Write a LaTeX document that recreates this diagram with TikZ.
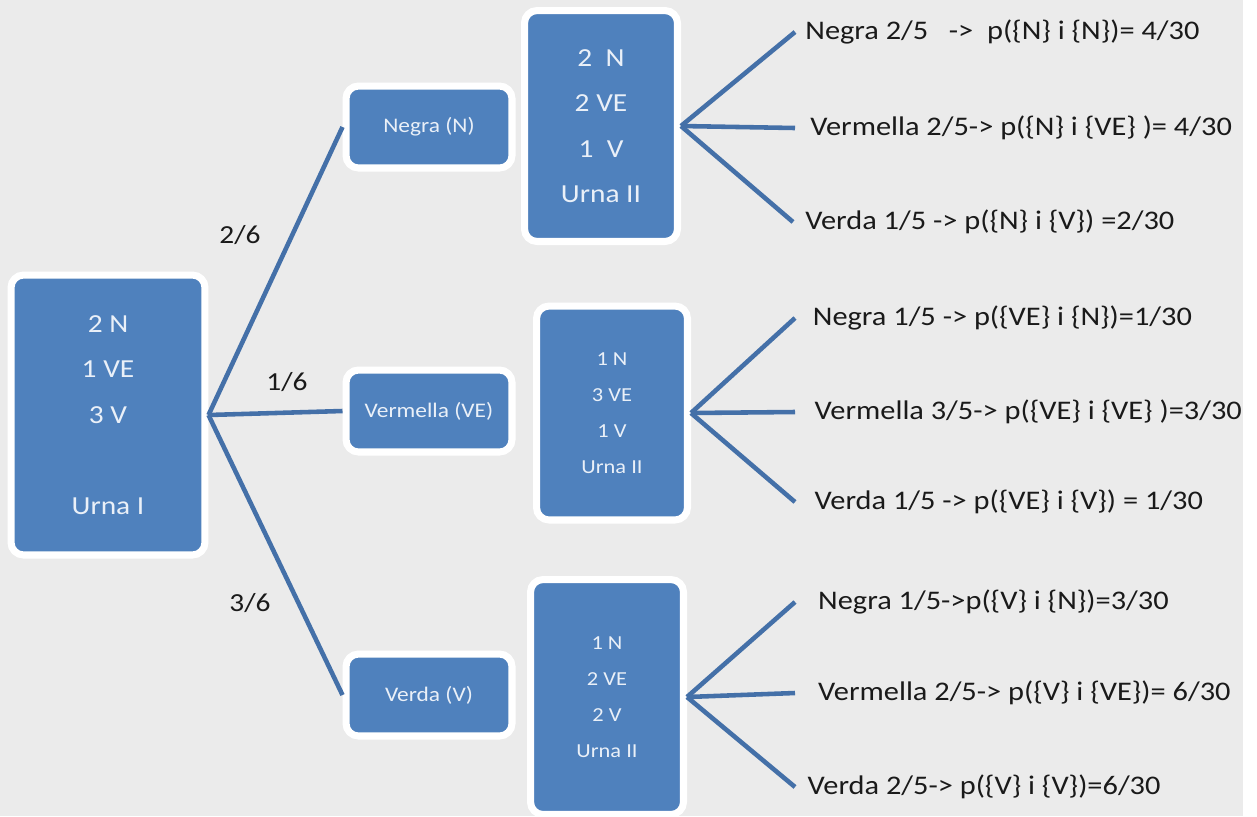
\documentclass[tikz,border=0pt]{standalone}
\usepackage{fontspec}
\setmainfont[FakeStretch=1.13]{Carlito}
\usetikzlibrary{positioning}
\definecolor{fons}{HTML}{EBEBEB}
\definecolor{blau}{HTML}{4F81BD}
\definecolor{linia}{HTML}{4470A8}
\definecolor{lletra}{HTML}{EAF0F8}
\definecolor{negre}{HTML}{1A1A1A}
\tikzset{
  caixa/.style={draw=white, line width=4pt, fill=blau, rounded corners=0.25cm,
    text=lletra, align=center, inner sep=0pt},
  gran/.style={font=\fontsize{14.8}{25.9}\selectfont},
  petit/.style={font=\fontsize{11.3}{20.5}\selectfont},
  bola/.style={caixa, minimum width=3.32cm, minimum height=1.64cm,
    font=\fontsize{11.8}{14}\selectfont},
  rama/.style={draw=linia, line width=2.6pt},
  res/.style={font=\fontsize{15.3}{18}\selectfont, text=negre, inner sep=0pt},
  frac/.style={font=\fontsize{14.8}{18}\selectfont, text=negre}
}
\begin{document}
\begin{tikzpicture}[x=0.02cm, y=-0.02cm]
\useasboundingbox (0,0) rectangle (1257,816);
\fill[fons] (0,0) rectangle (1243,816);

% urnes i boles
\node[caixa, gran, minimum width=3.88cm, minimum height=5.6cm] (urnaI) at (108,415)
  {2 N\\1 VE\\3 V\\[25.9pt]Urna I};
\node[bola] (negra) at (429,127) {Negra (N)};
\node[bola] (vermella) at (429,411) {Vermella (VE)};
\node[bola] (verda) at (429,695) {Verda (V)};
\node[caixa, gran, minimum width=3.06cm, minimum height=4.62cm] (urnaA) at (601,126)
  {2~~N\\2 VE\\1~~V\\Urna II};
\node[caixa, petit, minimum width=3.02cm, minimum height=4.28cm] (urnaB) at (612,413)
  {1 N\\3 VE\\1 V\\Urna II};
\node[caixa, petit, minimum width=3.06cm, minimum height=4.7cm] (urnaC) at (607,697)
  {1 N\\2 VE\\2 V\\Urna II};

% primera extraccio
\draw[rama] (urnaI.east) -- (negra.west);
\draw[rama] (urnaI.east) -- (vermella.west);
\draw[rama] (urnaI.east) -- (verda.west);
\node[frac] (p1) at (240,235) {2/6};
\node[frac] (p2) at (287,382) {1/6};
\node[frac] (p3) at (250,603) {3/6};

% segona extraccio
\coordinate (a1) at (795,32);
\coordinate (a2) at (795,128);
\coordinate (a3) at (793,222);
\coordinate (b1) at (795,318);
\coordinate (b2) at (795,412);
\coordinate (b3) at (795,502);
\coordinate (c1) at (795,602);
\coordinate (c2) at (795,693);
\coordinate (c3) at (795,787);
\foreach \u/\r in {urnaA/a, urnaB/b, urnaC/c}
  \foreach \i in {1,2,3}
    \draw[rama] (\u.east) -- (\r\i);

\node[res, right=5.7pt of a1] (ta1) {Negra 2/5\ \ \ ->\ \ p(\{N\} i \{N\})= 4/30};
\node[res, right=8.5pt of a2] (ta2) {Vermella 2/5-> p(\{N\} i \{VE\} )= 4/30};
\node[res, right=6.8pt of a3] (ta3) {Verda 1/5 -> p(\{N\} i \{V\}) =2/30};
\node[res, right=10pt of b1] (tb1) {Negra 1/5 -> p(\{VE\} i \{N\})=1/30};
\node[res, right=11pt of b2] (tb2) {Vermella 3/5-> p(\{VE\} i \{VE\} )=3/30};
\node[res, right=11pt of b3] (tb3) {Verda 1/5 -> p(\{VE\} i \{V\}) = 1/30};
\node[res, right=13pt of c1] (tc1) {Negra 1/5->p(\{V\} i \{N\})=3/30};
\node[res, right=13pt of c2] (tc2) {Vermella 2/5-> p(\{V\} i \{VE\})= 6/30};
\node[res, right=7pt of c3] (tc3) {Verda 2/5-> p(\{V\} i \{V\})=6/30};

\end{tikzpicture}
\end{document}
